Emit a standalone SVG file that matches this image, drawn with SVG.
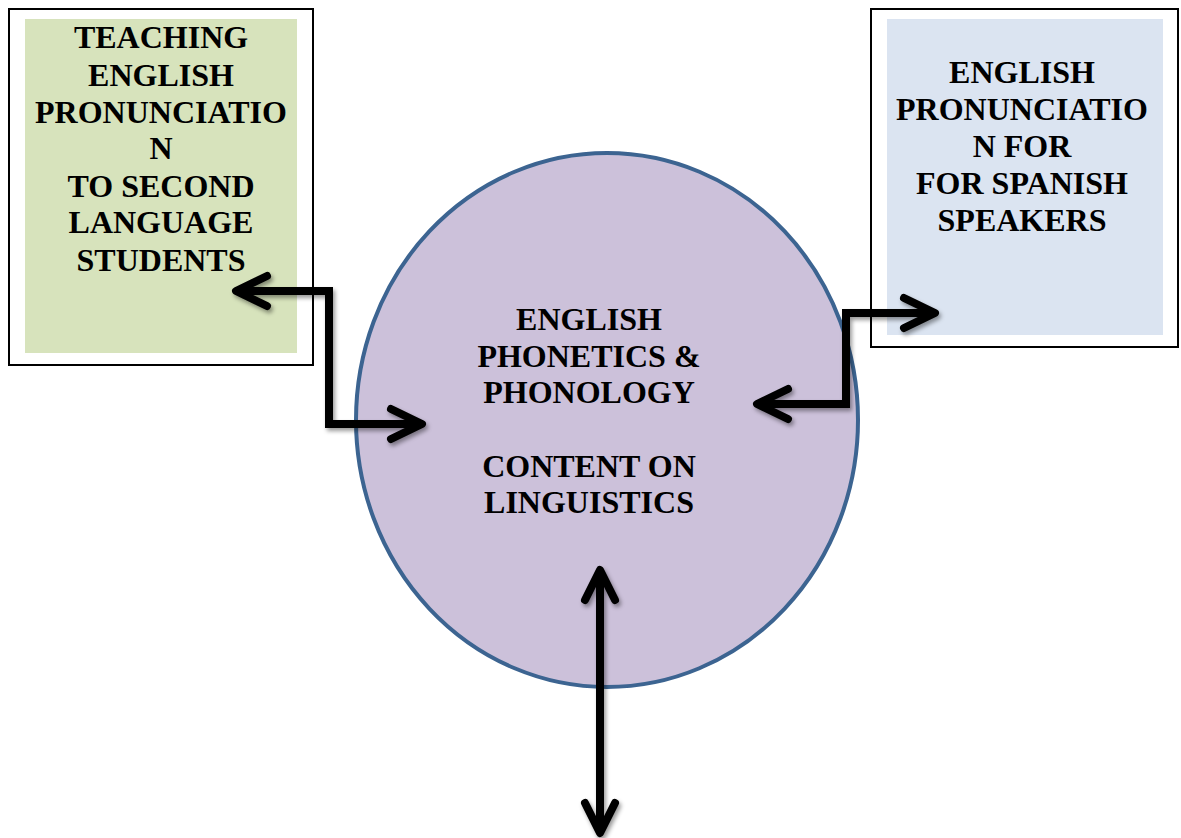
<svg xmlns="http://www.w3.org/2000/svg" width="1181" height="838" viewBox="0 0 1181 838">
<style>
.t{font-family:"Liberation Serif","Times New Roman",serif;font-weight:bold;font-size:32px;fill:#000;text-anchor:middle}
.frame{fill:#fff;stroke:#000;stroke-width:2}
.conn{fill:none;stroke:#000;stroke-width:8;stroke-linejoin:miter}
.head{fill:none;stroke:#000;stroke-width:8;stroke-linecap:round;stroke-linejoin:round}
</style>
<defs>
<filter id="sh" x="-20%" y="-20%" width="140%" height="140%">
<feDropShadow dx="2" dy="3" stdDeviation="2" flood-color="#000" flood-opacity="0.4"/>
</filter>
</defs>
<rect width="1181" height="838" fill="#fff"/>
<g id="node-teaching">
<rect class="frame" x="9" y="9" width="304" height="356"/>
<rect x="25" y="19" width="272" height="334" fill="#d7e3bc"/>
<text class="t" x="161"><tspan x="161" y="48">TEACHING</tspan><tspan x="161" y="86">ENGLISH</tspan><tspan x="161" y="123">PRONUNCIATIO</tspan><tspan x="161" y="159">N</tspan><tspan x="161" y="197">TO SECOND</tspan><tspan x="161" y="233">LANGUAGE</tspan><tspan x="161" y="271">STUDENTS</tspan></text>
</g>
<g id="node-spanish">
<rect class="frame" x="871" y="9" width="307" height="338"/>
<rect x="887" y="19" width="276" height="316" fill="#dbe4f1"/>
<text class="t"><tspan x="1022" y="83">ENGLISH</tspan><tspan x="1022" y="120">PRONUNCIATIO</tspan><tspan x="1022" y="157">N FOR</tspan><tspan x="1022" y="194">FOR SPANISH</tspan><tspan x="1022" y="231">SPEAKERS</tspan></text>
</g>
<g id="node-center">
<ellipse cx="607" cy="420" rx="251" ry="267" fill="#ccc1da" stroke="#3c6491" stroke-width="4"/>
<text class="t"><tspan x="589" y="330">ENGLISH</tspan><tspan x="589" y="367">PHONETICS &amp;</tspan><tspan x="589" y="403">PHONOLOGY</tspan><tspan x="589" y="477">CONTENT ON</tspan><tspan x="589" y="513">LINGUISTICS</tspan></text>
</g>
<g id="connectors" filter="url(#sh)">
<path class="conn" d="M238 291 H329 V424 H420"/>
<path class="head" d="M267 276 L236 291 L267 306"/>
<path class="head" d="M391 409 L422 424 L391 439"/>
<path class="conn" d="M933 313 H846 V404 H759"/>
<path class="head" d="M904 298 L935 313 L904 328"/>
<path class="head" d="M788 389 L757 404 L788 419"/>
<path class="conn" d="M600 572 V831"/>
<path class="head" d="M585 600 L600 570 L615 600"/>
<path class="head" d="M585 803 L600 833 L615 803"/>
</g>
</svg>
